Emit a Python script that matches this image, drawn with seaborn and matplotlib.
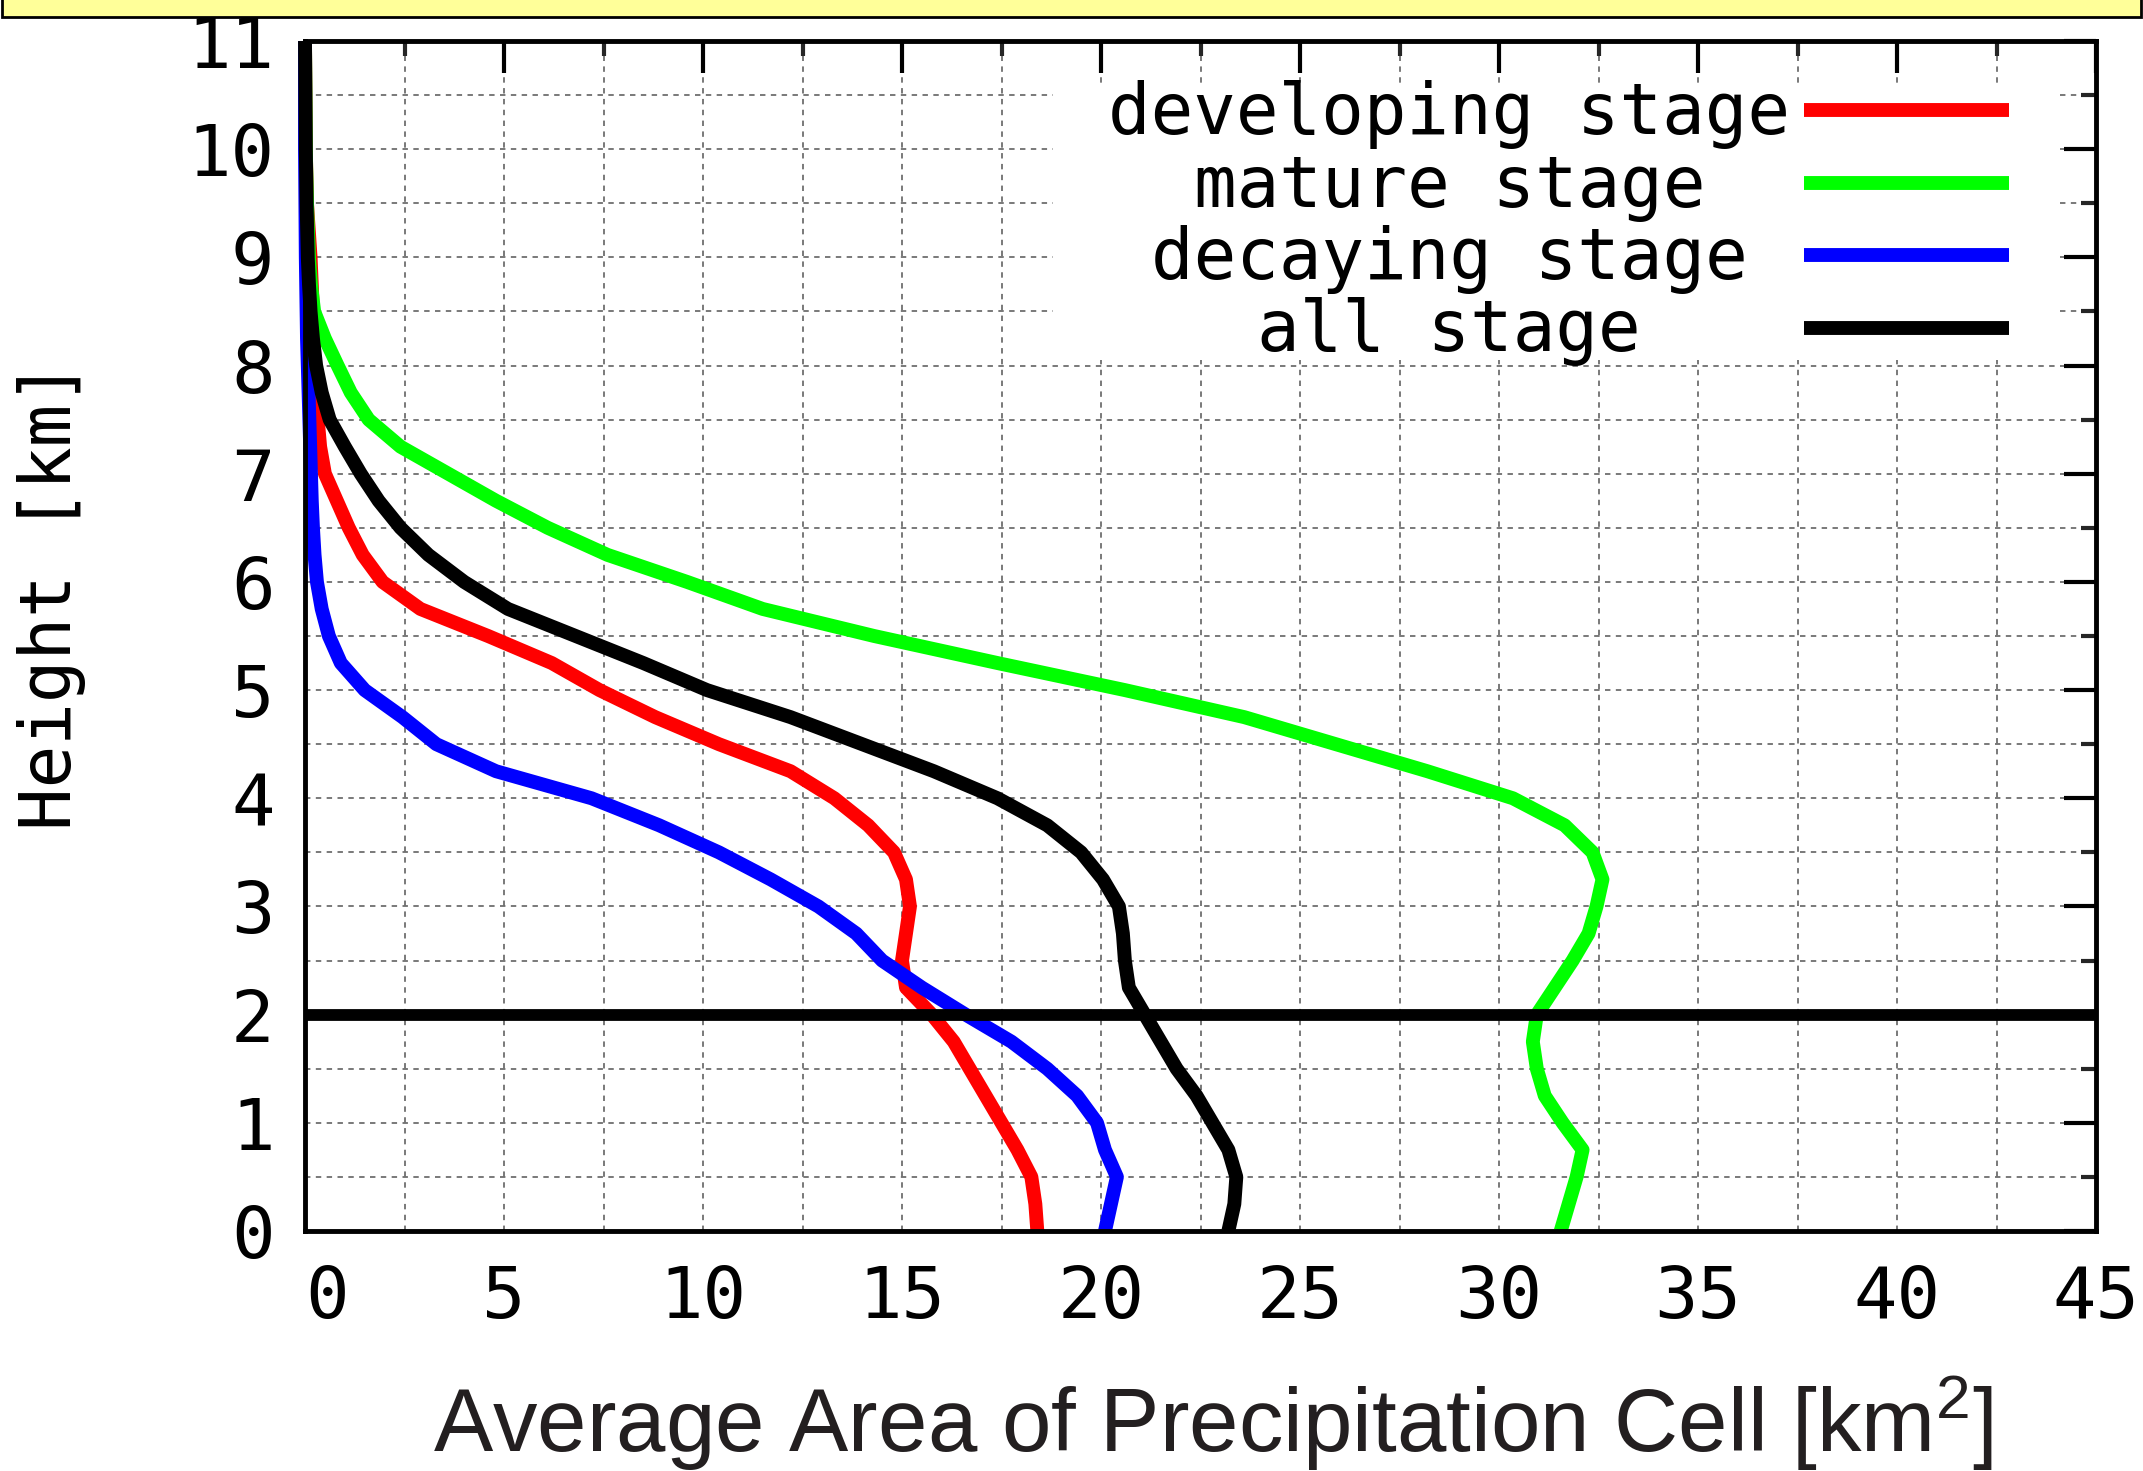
import numpy as np
import pandas as pd
import matplotlib
matplotlib.use("Agg")
import matplotlib.pyplot as plt
from matplotlib.patches import Rectangle
from matplotlib.ticker import MultipleLocator
import seaborn as sns

# Height levels [km] and average cell area [km^2] for each life-cycle stage
heights = [0.0, 0.25, 0.5, 0.75, 1.0, 1.25, 1.5, 1.75, 2.0, 2.25, 2.5, 2.75,
           3.0, 3.25, 3.5, 3.75, 4.0, 4.25, 4.5, 4.75, 5.0, 5.25, 5.5, 5.75,
           6.0, 6.25, 6.5, 6.75, 7.0, 7.25, 7.5, 7.75, 8.0, 8.25, 8.5, 8.75,
           9.0, 9.5, 10.0, 10.5, 11.0]

developing = [18.4, 18.35, 18.25, 17.9, 17.5, 17.1, 16.7, 16.3, 15.75, 15.1,
              15.0, 15.1, 15.2, 15.1, 14.8, 14.15, 13.3, 12.2, 10.4, 8.8,
              7.4, 6.2, 4.6, 2.9, 1.95, 1.45, 1.1, 0.8, 0.5, 0.38,
              0.32, 0.27, 0.24, 0.22, 0.2, 0.17, 0.14, 0.05, 0.02, 0.01, 0.0]

mature = [31.55, 31.75, 31.95, 32.1, 31.6, 31.15, 30.95, 30.85, 30.95, 31.4,
          31.85, 32.25, 32.45, 32.6, 32.35, 31.65, 30.35, 28.2, 25.9, 23.6,
          20.6, 17.4, 14.3, 11.5, 9.6, 7.6, 6.1, 4.8, 3.6, 2.4,
          1.6, 1.15, 0.82, 0.5, 0.23, 0.15, 0.1, 0.05, 0.02, 0.01, 0.0]

decaying = [20.1, 20.25, 20.4, 20.1, 19.9, 19.4, 18.65, 17.75, 16.6, 15.5,
            14.5, 13.85, 12.9, 11.7, 10.4, 8.9, 7.2, 4.8, 3.3, 2.45,
            1.5, 0.9, 0.6, 0.42, 0.3, 0.24, 0.2, 0.17, 0.15, 0.13,
            0.11, 0.09, 0.07, 0.05, 0.04, 0.03, 0.02, 0.01, 0.0, 0.0, 0.0]

all_stage = [23.2, 23.35, 23.4, 23.2, 22.8, 22.4, 21.9, 21.5, 21.1, 20.7,
             20.6, 20.55, 20.45, 20.05, 19.5, 18.65, 17.4, 15.8, 14.0, 12.2,
             10.1, 8.5, 6.8, 5.1, 4.0, 3.1, 2.4, 1.85, 1.4, 1.0,
             0.62, 0.42, 0.28, 0.2, 0.14, 0.1, 0.07, 0.04, 0.02, 0.01, 0.0]

stage_names = ["developing stage", "mature stage", "decaying stage", "all stage"]
stage_colors = ["#ff0000", "#00ff00", "#0000ff", "#000000"]
x_ticks = [0, 5, 10, 15, 20, 25, 30, 35, 40, 45]
y_ticks = [0, 1, 2, 3, 4, 5, 6, 7, 8, 9, 10, 11]
reference_height = 2.0

# ---------------------------------------------------------------------------
sns.set_style("white")
plt.rcParams["font.family"] = ["DejaVu Sans Mono", "DejaVu Sans"]
plt.rcParams["mathtext.fontset"] = "custom"
plt.rcParams["mathtext.rm"] = "Liberation Sans"
plt.rcParams["mathtext.it"] = "Liberation Sans:italic"

W, H = 2143, 1471
fig = plt.figure(figsize=(W / 100, H / 100), dpi=100)
fig.patch.set_facecolor("white")

# plot frame in pixel terms
left_px, right_px, top_px, bottom_px = 305, 2096, 41, 1231
ax = fig.add_axes([left_px / W, 1 - bottom_px / H,
                   (right_px - left_px) / W, (bottom_px - top_px) / H])
ax.set_facecolor("white")

series = {"developing stage": developing, "mature stage": mature,
          "decaying stage": decaying, "all stage": all_stage}
df = pd.concat(
    [pd.DataFrame({"height": heights, "area": vals, "stage": name})
     for name, vals in series.items()],
    ignore_index=True)

curve_lw = 10
palette = dict(zip(stage_names, stage_colors))
sns.lineplot(data=df, x="area", y="height", hue="stage", hue_order=stage_names,
             palette=palette, sort=False, estimator=None, orient="y",
             linewidth=curve_lw, legend=False, ax=ax, clip_on=False,
             solid_joinstyle="round", solid_capstyle="butt", zorder=2)
ax.set_xlabel("")
ax.set_ylabel("")

ax.axhline(reference_height, color="black", lw=8.5, zorder=3,
           solid_capstyle="butt")

ax.set_xlim(0, 45)
ax.set_ylim(0, 11)

# ticks and grid
ax.set_axisbelow(True)
ax.set_xticks(x_ticks)
ax.set_xticklabels([str(v) for v in x_ticks])
ax.set_yticks(y_ticks)
ax.set_yticklabels([str(v) for v in y_ticks])
ax.xaxis.set_minor_locator(MultipleLocator(2.5))
ax.yaxis.set_minor_locator(MultipleLocator(0.5))
ax.tick_params(which="major", direction="in", length=23, width=3,
               top=True, right=True, labelsize=52, colors="black")
ax.tick_params(which="minor", direction="in", length=11, width=3,
               top=True, right=True)
ax.tick_params(axis="x", which="major", pad=24)
ax.tick_params(axis="y", which="major", pad=22)
ax.get_xticklabels()[0].set_horizontalalignment("left")
ax.grid(True, which="both", color="#6e6e6e", lw=1.3, linestyle=(0, (3, 3)))

for sp in ax.spines.values():
    sp.set_linewidth(3.5)
    sp.set_color("black")
    sp.set_zorder(4)

# key box
ax.add_patch(Rectangle((18.8, 8.05), 44.0 - 18.8, 10.58 - 8.05,
                       facecolor="white", edgecolor="none", zorder=1))
key_rows = [10.36, 9.69, 9.02, 8.35]
for name, color, yk in zip(stage_names, stage_colors, key_rows):
    ax.text(28.75, yk - 0.22, name, ha="center", va="baseline", fontsize=51,
            family="DejaVu Sans Mono", color="black", zorder=5)
    ax.plot([37.66, 42.81], [yk, yk], color=color, lw=curve_lw,
            solid_capstyle="butt", zorder=5)

# axis titles
fig.text(52 / W, 1 - 596 / H, "Height [km]", rotation=90, ha="center",
         va="center", fontsize=51, family="DejaVu Sans Mono", color="black")
fig.text(1213 / W, 1 - 1452 / H,
         "Average Area of Precipitation Cell [km$^{2}$]",
         ha="center", va="baseline", fontsize=64, family="Liberation Sans",
         color="#231f20")

# pale header strip along the top edge
fig.patches.append(Rectangle((1.5 / W, 1 - 17 / H), (W - 4) / W, 30 / H,
                             transform=fig.transFigure, facecolor="#ffff99",
                             edgecolor="black", lw=2, zorder=10))

fig.savefig("out.png", dpi=100)
